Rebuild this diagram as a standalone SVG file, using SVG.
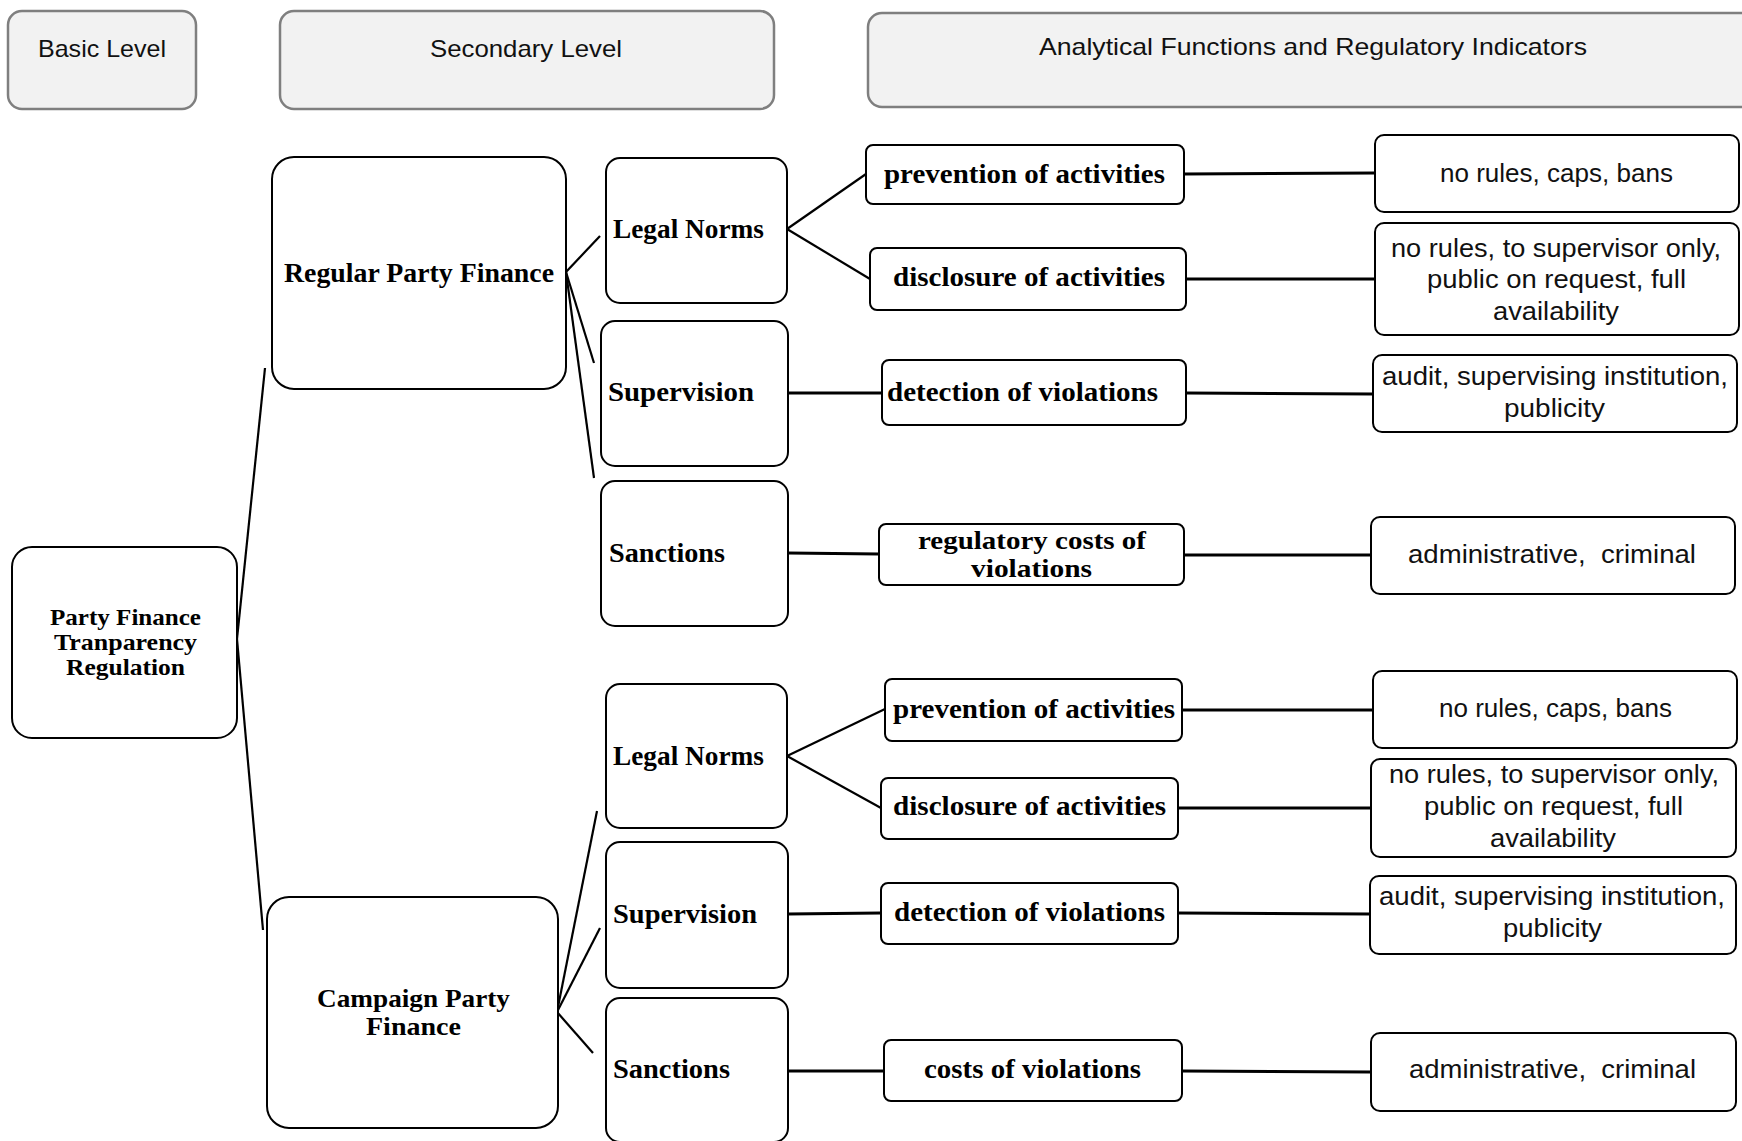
<svg xmlns="http://www.w3.org/2000/svg" width="1742" height="1141" viewBox="0 0 1742 1141">
<style>
.hdr{fill:#f2f2f2;stroke:#7f7f7f;stroke-width:2.5}
.box{fill:#fff;stroke:#000;stroke-width:2}
.ht{font-family:"Liberation Sans",Arial,sans-serif;font-size:24px;fill:#111}
.bt{font-family:"Liberation Serif","Times New Roman",serif;font-weight:bold;font-size:27px;fill:#000}
.b2{font-family:"Liberation Serif","Times New Roman",serif;font-weight:bold;font-size:25px;fill:#000}
.rt{font-family:"Liberation Serif","Times New Roman",serif;font-weight:bold;font-size:24px;fill:#000}
.st{font-family:"Liberation Sans",Arial,sans-serif;font-size:25px;fill:#111}
.c line{stroke:#000;stroke-width:2.2}
.c .h{stroke-width:3}
</style>
<rect width="1742" height="1141" fill="#fff"/>
<g id="header-basic"><rect class="hdr" x="8" y="11" width="188" height="98" rx="14"/><text class="ht" x="38" y="57" textLength="128" lengthAdjust="spacingAndGlyphs">Basic Level</text></g>
<g id="header-secondary"><rect class="hdr" x="280" y="11" width="494" height="98" rx="14"/><text class="ht" x="430" y="57" textLength="192" lengthAdjust="spacingAndGlyphs">Secondary Level</text></g>
<g id="header-analytical"><rect class="hdr" x="868" y="13" width="900" height="94" rx="14"/><text class="ht" x="1039" y="55" textLength="548" lengthAdjust="spacingAndGlyphs">Analytical Functions and Regulatory Indicators</text></g>

<g class="c" id="connectors">
<line x1="237" y1="639" x2="265" y2="368"/>
<line x1="237" y1="639" x2="263" y2="930"/>
<line x1="566" y1="272" x2="600" y2="236"/>
<line x1="566" y1="272" x2="594" y2="363"/>
<line x1="566" y1="272" x2="594" y2="478"/>
<line x1="787" y1="229" x2="866" y2="174"/>
<line x1="787" y1="229" x2="870" y2="279"/>
<line class="h" x1="1184" y1="174" x2="1375" y2="173"/>
<line class="h" x1="1186" y1="279" x2="1375" y2="279"/>
<line class="h" x1="788" y1="393" x2="882" y2="393"/>
<line class="h" x1="1186" y1="393" x2="1373" y2="394"/>
<line class="h" x1="788" y1="553" x2="879" y2="554"/>
<line class="h" x1="1184" y1="555" x2="1371" y2="555"/>
<line x1="557" y1="1012" x2="597" y2="811"/>
<line x1="557" y1="1012" x2="600" y2="928"/>
<line x1="557" y1="1012" x2="593" y2="1053"/>
<line x1="787" y1="756" x2="885" y2="709"/>
<line x1="787" y1="756" x2="881" y2="808"/>
<line class="h" x1="1182" y1="710" x2="1373" y2="710"/>
<line class="h" x1="1178" y1="808" x2="1371" y2="808"/>
<line class="h" x1="788" y1="914" x2="881" y2="913"/>
<line class="h" x1="1178" y1="913" x2="1370" y2="914"/>
<line class="h" x1="788" y1="1071" x2="884" y2="1071"/>
<line class="h" x1="1182" y1="1071" x2="1371" y2="1072"/>
</g>

<g id="root"><rect class="box" x="12" y="547" width="225" height="191" rx="20"/>
<text class="rt" x="50" y="625" textLength="151" lengthAdjust="spacingAndGlyphs">Party Finance</text>
<text class="rt" x="54" y="650" textLength="143" lengthAdjust="spacingAndGlyphs">Tranparency</text>
<text class="rt" x="66" y="675" textLength="119" lengthAdjust="spacingAndGlyphs">Regulation</text></g>

<g id="regular"><rect class="box" x="272" y="157" width="294" height="232" rx="22"/>
<text class="bt" x="284" y="282" textLength="270" lengthAdjust="spacingAndGlyphs">Regular Party Finance</text></g>
<g id="campaign"><rect class="box" x="267" y="897" width="291" height="231" rx="22"/>
<text class="b2" x="317" y="1007" textLength="193" lengthAdjust="spacingAndGlyphs">Campaign Party</text>
<text class="b2" x="366" y="1035" textLength="95" lengthAdjust="spacingAndGlyphs">Finance</text></g>

<g id="reg-legal"><rect class="box" x="606" y="158" width="181" height="145" rx="14"/><text class="bt" x="613" y="238" textLength="151" lengthAdjust="spacingAndGlyphs">Legal Norms</text></g>
<g id="reg-supervision"><rect class="box" x="601" y="321" width="187" height="145" rx="14"/><text class="bt" x="608" y="401" textLength="146" lengthAdjust="spacingAndGlyphs">Supervision</text></g>
<g id="reg-sanctions"><rect class="box" x="601" y="481" width="187" height="145" rx="14"/><text class="bt" x="609" y="562" textLength="116" lengthAdjust="spacingAndGlyphs">Sanctions</text></g>
<g id="camp-legal"><rect class="box" x="606" y="684" width="181" height="144" rx="14"/><text class="bt" x="613" y="765" textLength="151" lengthAdjust="spacingAndGlyphs">Legal Norms</text></g>
<g id="camp-supervision"><rect class="box" x="606" y="842" width="182" height="146" rx="14"/><text class="bt" x="613" y="923" textLength="144" lengthAdjust="spacingAndGlyphs">Supervision</text></g>
<g id="camp-sanctions"><rect class="box" x="606" y="998" width="182" height="144" rx="14"/><text class="bt" x="613" y="1078" textLength="117" lengthAdjust="spacingAndGlyphs">Sanctions</text></g>

<g id="reg-prevention"><rect class="box" x="866" y="145" width="318" height="59" rx="7"/><text class="bt" x="884" y="183" textLength="281" lengthAdjust="spacingAndGlyphs">prevention of activities</text></g>
<g id="reg-disclosure"><rect class="box" x="870" y="248" width="316" height="62" rx="7"/><text class="bt" x="893" y="286" textLength="272" lengthAdjust="spacingAndGlyphs">disclosure of activities</text></g>
<g id="reg-detection"><rect class="box" x="882" y="360" width="304" height="65" rx="7"/><text class="bt" x="887" y="401" textLength="271" lengthAdjust="spacingAndGlyphs">detection of violations</text></g>
<g id="reg-costs"><rect class="box" x="879" y="524" width="305" height="61" rx="7"/>
<text class="b2" x="918" y="549" textLength="228" lengthAdjust="spacingAndGlyphs">regulatory costs of</text>
<text class="b2" x="971" y="577" textLength="121" lengthAdjust="spacingAndGlyphs">violations</text></g>

<g id="reg-ind-prevention"><rect class="box" x="1375" y="135" width="364" height="77" rx="9"/><text class="st" x="1440" y="182" textLength="233" lengthAdjust="spacingAndGlyphs">no rules, caps, bans</text></g>
<g id="reg-ind-disclosure"><rect class="box" x="1375" y="223" width="364" height="112" rx="9"/>
<text class="st" x="1391" y="257" textLength="330" lengthAdjust="spacingAndGlyphs">no rules, to supervisor only,</text>
<text class="st" x="1427" y="288" textLength="259" lengthAdjust="spacingAndGlyphs">public on request, full</text>
<text class="st" x="1493" y="320" textLength="126" lengthAdjust="spacingAndGlyphs">availability</text></g>
<g id="reg-ind-detection"><rect class="box" x="1373" y="355" width="364" height="77" rx="9"/>
<text class="st" x="1382" y="385" textLength="346" lengthAdjust="spacingAndGlyphs">audit, supervising institution,</text>
<text class="st" x="1504" y="417" textLength="101" lengthAdjust="spacingAndGlyphs">publicity</text></g>
<g id="reg-ind-costs"><rect class="box" x="1371" y="517" width="364" height="77" rx="9"/><text class="st" x="1408" y="563" textLength="288" lengthAdjust="spacingAndGlyphs" xml:space="preserve">administrative,  criminal</text></g>

<g id="camp-prevention"><rect class="box" x="885" y="679" width="297" height="62" rx="7"/><text class="bt" x="893" y="718" textLength="282" lengthAdjust="spacingAndGlyphs">prevention of activities</text></g>
<g id="camp-disclosure"><rect class="box" x="881" y="778" width="297" height="61" rx="7"/><text class="bt" x="893" y="815" textLength="273" lengthAdjust="spacingAndGlyphs">disclosure of activities</text></g>
<g id="camp-detection"><rect class="box" x="881" y="883" width="297" height="61" rx="7"/><text class="bt" x="894" y="921" textLength="271" lengthAdjust="spacingAndGlyphs">detection of violations</text></g>
<g id="camp-costs"><rect class="box" x="884" y="1040" width="298" height="61" rx="7"/><text class="bt" x="924" y="1078" textLength="217" lengthAdjust="spacingAndGlyphs">costs of violations</text></g>

<g id="camp-ind-prevention"><rect class="box" x="1373" y="671" width="364" height="77" rx="9"/><text class="st" x="1439" y="717" textLength="233" lengthAdjust="spacingAndGlyphs">no rules, caps, bans</text></g>
<g id="camp-ind-disclosure"><rect class="box" x="1371" y="759" width="365" height="98" rx="9"/>
<text class="st" x="1389" y="783" textLength="330" lengthAdjust="spacingAndGlyphs">no rules, to supervisor only,</text>
<text class="st" x="1424" y="815" textLength="259" lengthAdjust="spacingAndGlyphs">public on request, full</text>
<text class="st" x="1490" y="847" textLength="126" lengthAdjust="spacingAndGlyphs">availability</text></g>
<g id="camp-ind-detection"><rect class="box" x="1370" y="876" width="366" height="78" rx="9"/>
<text class="st" x="1379" y="905" textLength="346" lengthAdjust="spacingAndGlyphs">audit, supervising institution,</text>
<text class="st" x="1503" y="937" textLength="99" lengthAdjust="spacingAndGlyphs">publicity</text></g>
<g id="camp-ind-costs"><rect class="box" x="1371" y="1033" width="365" height="78" rx="9"/><text class="st" x="1409" y="1078" textLength="287" lengthAdjust="spacingAndGlyphs" xml:space="preserve">administrative,  criminal</text></g>
</svg>
